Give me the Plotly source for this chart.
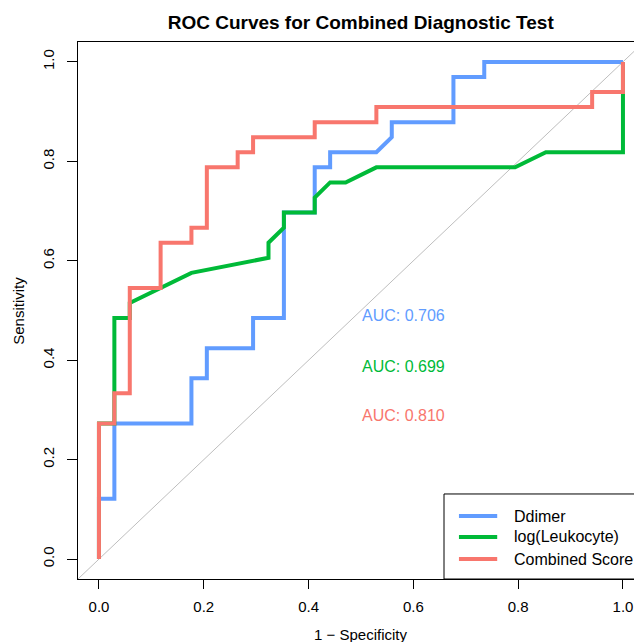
import numpy as np
import plotly.graph_objects as go

# ---------------- data ----------------
n_pos = 33   # number of positive cases (sensitivity step = 1/33)
n_neg = 34   # number of negative cases (1-specificity step = 1/34)

series_names = ["Ddimer", "log(Leukocyte)", "Combined Score"]
series_colors = ["#619CFF", "#00BA38", "#F8766D"]

# ROC path vertices, as counts of false positives / true positives
ddimer_fp = [0, 0, 1, 1, 6, 6, 7, 7, 10, 10, 12, 12, 14, 14, 15, 15, 18, 19, 19, 23, 23, 25, 25, 34]
ddimer_tp = [0, 4, 4, 9, 9, 12, 12, 14, 14, 16, 16, 23, 23, 26, 26, 27, 27, 28, 29, 29, 32, 32, 33, 33]

leuko_fp = [0, 0, 1, 1, 2, 2, 6, 11, 11, 12, 12, 14, 14, 15, 16, 18, 27, 29, 34, 34, 34]
leuko_tp = [0, 9, 9, 16, 16, 17, 19, 20, 21, 22, 23, 23, 24, 25, 25, 26, 26, 27, 27, 31, 33]

combined_fp = [0, 0, 1, 1, 2, 2, 4, 4, 6, 6, 7, 7, 9, 9, 10, 10, 14, 14, 18, 18, 32, 32, 34, 34]
combined_tp = [0, 9, 9, 11, 11, 18, 18, 21, 21, 22, 22, 26, 26, 27, 27, 28, 28, 29, 29, 30, 30, 31, 31, 33]

tick_vals = [0.0, 0.2, 0.4, 0.6, 0.8, 1.0]
tick_labels = ["0.0", "0.2", "0.4", "0.6", "0.8", "1.0"]

# ---------------- figure ----------------
FONT = "Liberation Sans, Arial, Helvetica, sans-serif"
W, H = 634, 642
ML, MR, MT, MB = 78, 0, 42, 63
X_LO, Y_LO, Y_HI = -0.04, -0.04, 1.04
PX_PER_UNIT_X = 524.0
X_HI = X_LO + (W - ML - MR) / PX_PER_UNIT_X

fig = go.Figure()

# identity (chance) line
fig.add_trace(go.Scatter(x=[-0.1, 1.1], y=[-0.1, 1.1], mode="lines",
                         line=dict(color="#BEBEBE", width=1),
                         hoverinfo="skip", showlegend=False))

paths = [(ddimer_fp, ddimer_tp), (leuko_fp, leuko_tp), (combined_fp, combined_tp)]
aucs = []
for name, color, (fp, tp) in zip(series_names, series_colors, paths):
    fpr = np.array(fp, dtype=float) / n_neg
    tpr = np.array(tp, dtype=float) / n_pos
    aucs.append(float(np.trapezoid(tpr, fpr)))
    fig.add_trace(go.Scatter(x=fpr, y=tpr, mode="lines", name=name,
                             line=dict(color=color, width=4),
                             showlegend=False))

annotations = []
# AUC texts
auc_y = [0.489, 0.388, 0.288]
for a, y, c in zip(aucs, auc_y, series_colors):
    annotations.append(dict(x=0.581, y=y, xref="x", yref="y", text=f"AUC: {a:.3f}",
                            showarrow=False, xanchor="center", yanchor="middle",
                            font=dict(family=FONT, size=16, color=c)))

# manual legend (bottom-right, partly cut off like the reference)
shapes = [dict(type="rect", xref="x", yref="y", x0=0.6585, x1=1.2, y0=-0.04, y1=0.131,
               line=dict(color="black", width=1), fillcolor="white", layer="above")]
leg_y = [0.0867, 0.0445, 0.0002]
for name, c, y in zip(series_names, series_colors, leg_y):
    shapes.append(dict(type="line", xref="x", yref="y", x0=0.687, x1=0.760, y0=y, y1=y,
                       line=dict(color=c, width=4), layer="above"))
    annotations.append(dict(x=0.788, y=y, xref="x", yref="y", text=name, showarrow=False,
                            xanchor="left", yanchor="middle",
                            font=dict(family=FONT, size=16, color="black")))

# axis titles
annotations.append(dict(x=(360.7 - ML) / (W - ML - MR), y=(H - MB - 634) / (H - MT - MB),
                        xref="paper", yref="paper", text="1 \u2212 Specificity",
                        showarrow=False, xanchor="center", yanchor="middle",
                        font=dict(family=FONT, size=15, color="black")))
annotations.append(dict(x=(18.3 - ML) / (W - ML - MR), y=0.5, xref="paper", yref="paper",
                        text="Sensitivity", textangle=-90, showarrow=False,
                        xanchor="center", yanchor="middle",
                        font=dict(family=FONT, size=15, color="black")))

axis_common = dict(showgrid=False, zeroline=False, showline=True, linecolor="black",
                   linewidth=1, ticks="outside", tickcolor="black", tickwidth=1,
                   tickvals=tick_vals, ticktext=tick_labels,
                   tickfont=dict(family=FONT, size=15, color="black"))

fig.update_layout(
    width=W, height=H,
    margin=dict(l=ML, r=MR, t=MT, b=MB, pad=0),
    paper_bgcolor="white", plot_bgcolor="white",
    title=dict(text="<b>ROC Curves for Combined Diagnostic Test</b>",
               x=360.7 / W, xref="container", xanchor="center",
               y=1 - 22 / H, yref="container", yanchor="middle",
               font=dict(family=FONT, size=19, color="black")),
    xaxis=dict(range=[X_LO, X_HI], mirror=True, ticklen=9, ticklabelstandoff=5,
               **axis_common),
    yaxis=dict(range=[Y_LO, Y_HI], mirror=False, ticklen=10, tickangle=-90,
               ticklabelstandoff=7, **axis_common),
    shapes=shapes,
    annotations=annotations,
    showlegend=False,
)

fig.write_html("out.html",
               config={"displayModeBar": False},
               post_script="document.body.style.margin='0px';"
                           "document.body.style.overflow='hidden';")
